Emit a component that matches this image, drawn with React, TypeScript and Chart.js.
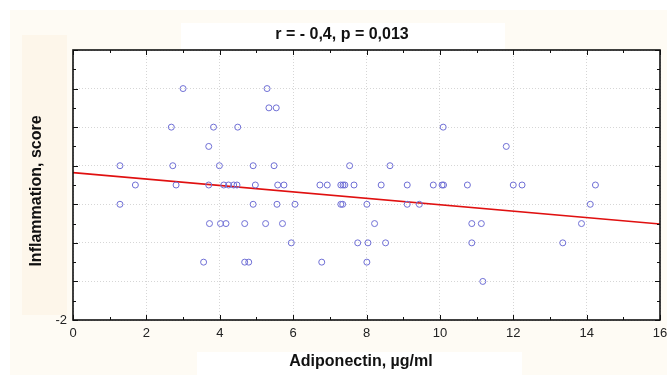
import React, { useEffect, useRef } from 'react';
import { Chart, registerables } from 'chart.js';

Chart.register(...registerables);

const TITLE = 'r = - 0,4, p = 0,013';
const X_TITLE = 'Adiponectin, µg/ml';
const Y_TITLE = 'Inflammation, score';

const X_MIN = 0;
const X_MAX = 16;
const X_STEP = 2;
const Y_MIN = -2;
const Y_MAX = 1.5;
const Y_STEP = 0.5;
const Y_LABELED = [-2];

// Adiponectin (µg/ml) of each subject
const adiponectin = [
  3.0, 5.29,
  5.34, 5.54,
  2.68, 3.83, 4.49, 10.09,
  3.70, 11.81,
  1.28, 2.72, 3.99, 4.91, 5.48, 7.54, 8.64,
  1.70, 2.81, 3.70, 4.11, 4.24, 4.38, 4.47, 4.97, 5.58, 5.75, 6.73, 6.93, 7.30, 7.36, 7.41, 7.66, 8.40, 9.11, 9.82, 10.06, 10.10, 10.75, 12.0, 12.24, 14.24,
  1.28, 4.91, 5.56, 6.05, 7.30, 7.35, 8.01, 9.11, 9.44, 14.1,
  3.72, 4.02, 4.17, 4.68, 5.25, 5.71, 8.22, 10.87, 11.13, 13.86,
  5.95, 7.76, 8.04, 8.52, 10.87, 13.35,
  3.56, 4.68, 4.79, 6.78, 8.01,
  11.17,
];

// Inflammation score of each subject
const inflammation = [
  1.0, 1.0,
  0.75, 0.75,
  0.5, 0.5, 0.5, 0.5,
  0.25, 0.25,
  0, 0, 0, 0, 0, 0, 0,
  -0.25, -0.25, -0.25, -0.25, -0.25, -0.25, -0.25, -0.25, -0.25, -0.25, -0.25, -0.25, -0.25, -0.25, -0.25, -0.25, -0.25, -0.25, -0.25, -0.25, -0.25, -0.25, -0.25, -0.25, -0.25,
  -0.5, -0.5, -0.5, -0.5, -0.5, -0.5, -0.5, -0.5, -0.5, -0.5,
  -0.75, -0.75, -0.75, -0.75, -0.75, -0.75, -0.75, -0.75, -0.75, -0.75,
  -1.0, -1.0, -1.0, -1.0, -1.0, -1.0,
  -1.25, -1.25, -1.25, -1.25, -1.25,
  -1.5,
];

// Regression line end points
const fitX = [0, 16];
const fitY = [-0.09, -0.755];

const W = 668;
const H = 375;

const decorPlugin = {
  id: 'decor',
  beforeDraw(chart: any) {
    const { ctx, chartArea } = chart;
    const { left, right, top, bottom } = chartArea;
    ctx.save();
    ctx.fillStyle = '#ffffff';
    ctx.fillRect(0, 0, W, H);
    ctx.fillStyle = '#fefbf4';
    ctx.fillRect(10, 10, W - 11, H - 10);
    ctx.fillStyle = '#fdf6ea';
    ctx.fillRect(22, 35, 45, 280);
    ctx.fillStyle = '#ffffff';
    ctx.fillRect(181, 23, 324, 27);
    ctx.fillRect(197, 352, 325, 23);
    ctx.fillRect(left, top, right - left, bottom - top);

    ctx.fillStyle = '#111111';
    ctx.textAlign = 'center';
    ctx.textBaseline = 'middle';
    ctx.font = 'bold 16px "Liberation Sans", Arial, sans-serif';
    ctx.fillText(TITLE, 342, 35);
    ctx.fillText(X_TITLE, 361, 362);
    ctx.translate(37, 191);
    ctx.rotate(-Math.PI / 2);
    ctx.fillText(Y_TITLE, 0, 0);
    ctx.restore();
  },
  afterDraw(chart: any) {
    const { ctx, chartArea, scales } = chart;
    const { left, right, top, bottom } = chartArea;
    const x = scales.x;
    const y = scales.y;
    ctx.save();
    ctx.strokeStyle = '#111111';
    ctx.lineWidth = 1;
    ctx.beginPath();
    for (let v = x.min; v <= x.max + 1e-9; v += X_STEP / 2) {
      const px = Math.round(x.getPixelForValue(v)) + 0.5;
      const major = Math.abs(v / X_STEP - Math.round(v / X_STEP)) < 1e-6;
      const len = major ? 5 : 3;
      ctx.moveTo(px, bottom);
      ctx.lineTo(px, bottom - len);
      ctx.moveTo(px, top);
      ctx.lineTo(px, top + len);
    }
    for (let v = y.min; v <= y.max + 1e-9; v += Y_STEP / 2) {
      const py = Math.round(y.getPixelForValue(v)) + 0.5;
      const major = Math.abs(v / Y_STEP - Math.round(v / Y_STEP)) < 1e-6;
      const len = major ? 5 : 3;
      ctx.moveTo(left, py);
      ctx.lineTo(left + len, py);
      ctx.moveTo(right, py);
      ctx.lineTo(right - len, py);
    }
    ctx.stroke();
    ctx.lineWidth = 1.6;
    ctx.strokeRect(left, top, right - left, bottom - top);
    ctx.restore();
  },
};

export default function App() {
  const canvasRef = useRef<HTMLCanvasElement | null>(null);

  useEffect(() => {
    const canvas = canvasRef.current;
    if (!canvas) return;
    const points = adiponectin.map((a, i) => ({ x: a, y: inflammation[i] }));
    const fit = fitX.map((a, i) => ({ x: a, y: fitY[i] }));
    const chart = new Chart(canvas, {
      type: 'scatter',
      data: {
        datasets: [
          {
            type: 'line',
            data: fit,
            borderColor: '#e01010',
            borderWidth: 1.6,
            pointRadius: 0,
            fill: false,
            order: 1,
          } as any,
          {
            data: points,
            pointStyle: 'circle',
            pointRadius: 3,
            pointBorderWidth: 1,
            borderColor: '#7070d6',
            backgroundColor: 'rgba(0,0,0,0)',
            pointBackgroundColor: 'rgba(0,0,0,0)',
            order: 0,
          },
        ],
      },
      options: {
        responsive: false,
        animation: false,
        devicePixelRatio: 1,
        layout: { padding: { top: 50, right: 8, left: 0, bottom: 0 } },
        plugins: {
          legend: { display: false },
          tooltip: { enabled: false },
          title: { display: false },
        },
        scales: {
          x: {
            type: 'linear',
            min: X_MIN,
            max: X_MAX,
            ticks: {
              stepSize: X_STEP,
              padding: 6,
              color: '#222222',
              font: { family: '"Liberation Sans", Arial, sans-serif', size: 13 },
              maxRotation: 0,
            },
            grid: { color: '#d6d6d6', lineWidth: 1, drawTicks: false },
            border: { display: false, dash: [1, 2] },
            afterFit(scale: any) {
              scale.height = 55;
              scale.paddingLeft = 0;
              scale.paddingRight = 0;
            },
          },
          y: {
            type: 'linear',
            min: Y_MIN,
            max: Y_MAX,
            ticks: {
              stepSize: Y_STEP,
              padding: 6,
              color: '#222222',
              font: { family: '"Liberation Sans", Arial, sans-serif', size: 13 },
              callback: (v: any) => (Y_LABELED.includes(Number(v)) ? String(v) : ''),
            },
            grid: { color: '#d6d6d6', lineWidth: 1, drawTicks: false },
            border: { display: false, dash: [1, 2] },
            afterFit(scale: any) {
              scale.width = 73;
              scale.paddingTop = 0;
              scale.paddingBottom = 0;
            },
          },
        },
      },
      plugins: [decorPlugin],
    });
    return () => chart.destroy();
  }, []);

  return (
    <div style={{ position: 'absolute', left: 0, top: 0, width: W, height: H }}>
      <canvas ref={canvasRef} width={W} height={H} style={{ width: W, height: H, display: 'block' }} />
    </div>
  );
}
